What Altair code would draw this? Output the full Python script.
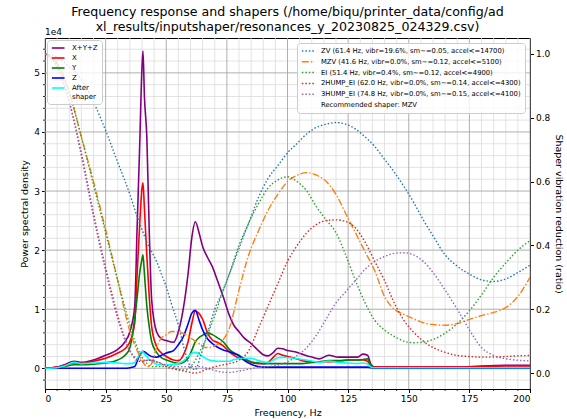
import altair as alt
import pandas as pd

# ---------------- data ----------------
psd_freq = [0, 5, 8, 12, 15, 20, 25, 30, 33, 35, 37, 38, 39, 40, 40.4, 41, 42, 43, 44, 46, 48, 50,
            53, 55, 57, 59, 60.5, 62, 63.5, 65, 67, 69, 71, 73.5, 76, 78, 80, 82, 85, 88, 90, 92, 94,
            96, 98, 100, 103, 106, 110, 113, 117, 121, 125, 129, 131, 133, 134.5, 136, 140, 150, 160,
            170, 180, 190, 200]
psd_xyz = [0.0, 0.02, 0.06, 0.12, 0.10, 0.14, 0.22, 0.32, 0.45, 0.62, 1.05, 2.4, 3.7, 5.1, 5.37, 4.6,
           3.9, 2.3, 1.15, 0.62, 0.5, 0.47, 0.44, 0.62, 1.0, 1.6, 2.2, 2.48, 2.3, 2.06, 1.88, 1.72,
           1.5, 1.21, 0.9, 0.72, 0.62, 0.52, 0.42, 0.3, 0.23, 0.21, 0.26, 0.34, 0.33, 0.3, 0.28, 0.24,
           0.19, 0.16, 0.22, 0.19, 0.19, 0.19, 0.24, 0.22, 0.06, 0.02, 0.02, 0.02, 0.02, 0.02, 0.04,
           0.05, 0.05]
psd_x = [0.0, 0.02, 0.05, 0.09, 0.08, 0.12, 0.17, 0.26, 0.33, 0.45, 0.77, 1.6, 2.4, 3.05, 3.14, 2.7,
         1.9, 1.2, 0.7, 0.37, 0.26, 0.2, 0.14, 0.13, 0.22, 0.45, 0.75, 0.97, 0.93, 0.83, 0.6, 0.48,
         0.44, 0.38, 0.28, 0.22, 0.17, 0.15, 0.1, 0.08, 0.08, 0.1, 0.18, 0.25, 0.22, 0.2, 0.17, 0.13,
         0.11, 0.11, 0.11, 0.12, 0.14, 0.14, 0.14, 0.12, 0.03, 0.02, 0.02, 0.02, 0.02, 0.02, 0.03,
         0.04, 0.04]
psd_y = [0.0, 0.01, 0.03, 0.06, 0.06, 0.07, 0.09, 0.14, 0.22, 0.35, 0.85, 1.2, 1.6, 1.85, 1.92, 1.6,
         1.05, 0.7, 0.45, 0.27, 0.18, 0.14, 0.1, 0.08, 0.1, 0.17, 0.3, 0.45, 0.52, 0.56, 0.6, 0.57,
         0.52, 0.45, 0.32, 0.26, 0.22, 0.17, 0.11, 0.09, 0.08, 0.08, 0.08, 0.08, 0.08, 0.08, 0.08,
         0.08, 0.1, 0.11, 0.13, 0.13, 0.14, 0.14, 0.15, 0.16, 0.04, 0.01, 0.01, 0.01, 0.01, 0.01,
         0.01, 0.01, 0.01]
psd_z = [0.0, 0.0, 0.0, 0.0, 0.0, 0.0, 0.0, 0.0, 0.0, 0.01, 0.03, 0.12, 0.22, 0.28, 0.29, 0.28,
         0.25, 0.22, 0.2, 0.19, 0.22, 0.26, 0.3, 0.4, 0.53, 0.75, 0.93, 0.98, 0.82, 0.65, 0.5, 0.42,
         0.36, 0.31, 0.28, 0.25, 0.21, 0.14, 0.07, 0.03, 0.02, 0.02, 0.02, 0.02, 0.02, 0.02, 0.02,
         0.02, 0.02, 0.02, 0.02, 0.02, 0.02, 0.02, 0.02, 0.02, 0.01, 0.0, 0.0, 0.0, 0.0, 0.0, 0.0,
         0.0, 0.0]
psd_after = [0.0, 0.01, 0.04, 0.1, 0.08, 0.09, 0.1, 0.09, 0.08, 0.08, 0.1, 0.16, 0.25, 0.28, 0.28,
             0.24, 0.2, 0.15, 0.12, 0.07, 0.06, 0.06, 0.06, 0.08, 0.12, 0.2, 0.25, 0.27, 0.24, 0.2,
             0.15, 0.13, 0.12, 0.12, 0.12, 0.15, 0.16, 0.17, 0.17, 0.13, 0.11, 0.1, 0.135, 0.18,
             0.185, 0.18, 0.17, 0.15, 0.125, 0.1, 0.125, 0.1, 0.09, 0.08, 0.09, 0.075, 0.02, 0.01,
             0.01, 0.01, 0.01, 0.01, 0.01, 0.01, 0.01]

psd_names = ["X+Y+Z", "X", "Y", "Z", "After shaper"]
psd_colors = ["#800080", "#ff0000", "#008000", "#0000ff", "#00ffff"]

shp_freq = [0, 5, 10, 15, 20, 25, 30, 35, 38, 40, 42, 44, 46, 48, 50, 52, 55, 58, 60, 62, 64, 66,
            68, 70, 73, 76, 80, 84, 88, 92, 96, 100, 104, 108, 112, 116, 120, 124, 128, 132, 136,
            140, 144, 148, 152, 156, 160, 165, 170, 175, 180, 185, 190, 195, 200]
shp_zv = [1.0, 0.99, 0.96, 0.92, 0.85, 0.76, 0.66, 0.56, 0.49, 0.45, 0.41, 0.38, 0.35, 0.31, 0.27,
          0.22, 0.15, 0.06, 0.02, 0.01, 0.05, 0.1, 0.15, 0.2, 0.25, 0.31, 0.4, 0.47, 0.55, 0.61,
          0.65, 0.69, 0.72, 0.75, 0.77, 0.78, 0.785, 0.78, 0.765, 0.74, 0.71, 0.67, 0.63, 0.585,
          0.535, 0.48, 0.43, 0.37, 0.335, 0.31, 0.292, 0.287, 0.295, 0.315, 0.338]
shp_mzv = [1.0, 0.97, 0.88, 0.74, 0.6, 0.45, 0.29, 0.13, 0.07, 0.04, 0.02, 0.03, 0.08, 0.11, 0.12,
           0.13, 0.13, 0.12, 0.11, 0.1, 0.09, 0.08, 0.08, 0.085, 0.1, 0.14, 0.26, 0.37, 0.445, 0.51,
           0.56, 0.6, 0.62, 0.628, 0.62, 0.6, 0.56, 0.5, 0.44, 0.38, 0.32, 0.24, 0.2, 0.184, 0.17,
           0.158, 0.152, 0.15, 0.155, 0.168, 0.18, 0.19, 0.205, 0.24, 0.3]
shp_ei = [1.0, 0.97, 0.88, 0.74, 0.59, 0.44, 0.29, 0.15, 0.08, 0.05, 0.03, 0.02, 0.02, 0.02, 0.02,
          0.02, 0.01, 0.01, 0.02, 0.04, 0.07, 0.1, 0.14, 0.18, 0.25, 0.31, 0.39, 0.47, 0.53, 0.58,
          0.605, 0.615, 0.6, 0.57, 0.52, 0.48, 0.44, 0.37, 0.29, 0.22, 0.165, 0.135, 0.115, 0.1,
          0.095, 0.097, 0.105, 0.125, 0.155, 0.195, 0.245, 0.3, 0.345, 0.385, 0.415]
shp_2hump = [1.0, 0.96, 0.85, 0.69, 0.5, 0.33, 0.18, 0.07, 0.04, 0.035, 0.04, 0.04, 0.035, 0.03,
             0.02, 0.015, 0.01, 0.005, 0.002, 0.0, 0.003, 0.01, 0.015, 0.02, 0.025, 0.03, 0.04,
             0.07, 0.14, 0.21, 0.28, 0.35, 0.4, 0.44, 0.466, 0.478, 0.48, 0.475, 0.455, 0.41, 0.35,
             0.29, 0.22, 0.165, 0.128, 0.1, 0.08, 0.065, 0.055, 0.052, 0.05, 0.05, 0.052, 0.054,
             0.055]
shp_3hump = [1.0, 0.96, 0.85, 0.68, 0.49, 0.32, 0.17, 0.07, 0.045, 0.04, 0.04, 0.04, 0.035, 0.03,
             0.025, 0.022, 0.02, 0.02, 0.02, 0.02, 0.02, 0.017, 0.012, 0.008, 0.003, 0.002, 0.006,
             0.012, 0.018, 0.02, 0.025, 0.035, 0.055, 0.08, 0.12, 0.17, 0.22, 0.255, 0.29, 0.325,
             0.35, 0.365, 0.375, 0.377, 0.37, 0.35, 0.315, 0.26, 0.2, 0.135, 0.08, 0.055, 0.045,
             0.04, 0.038]

shaper_names = [
    "ZV (61.4 Hz, vibr=19.6%, sm~=0.05, accel<=14700)",
    "MZV (41.6 Hz, vibr=0.0%, sm~=0.12, accel<=5100)",
    "EI (51.4 Hz, vibr=0.4%, sm~=0.12, accel<=4900)",
    "2HUMP_EI (62.0 Hz, vibr=0.0%, sm~=0.14, accel<=4300)",
    "3HUMP_EI (74.8 Hz, vibr=0.0%, sm~=0.15, accel<=4100)",
]
recommended = "Recommended shaper: MZV"
shaper_colors = ["#1f77b4", "#ff7f0e", "#2ca02c", "#d62728", "#9467bd", "transparent"]
DOT = [1.5, 2.0]
DASHDOT = [7, 2, 1.5, 2]
shaper_dashes = [DOT, DASHDOT, DOT, DOT, DOT, [1, 0]]

title_lines = ["Frequency response and shapers (/home/biqu/printer_data/config/ad",
               "xl_results/inputshaper/resonances_y_20230825_024329.csv)"]

x_major = [0, 25, 50, 75, 100, 125, 150, 175, 200]
x_minor = [f for f in range(0, 201, 5) if f % 25 != 0]
yl_major = [0, 1, 2, 3, 4, 5]
yl_minor = [round(v * 0.2, 1) for v in range(-1, 28) if v % 5 != 0]
yr_major = [0, 0.2, 0.4, 0.6, 0.8, 1.0]

# ---------------- tables ----------------
psd_series = [psd_xyz, psd_x, psd_y, psd_z, psd_after]
psd_rows = []
for name, vals in zip(psd_names, psd_series):
    for f, v in zip(psd_freq, vals):
        psd_rows.append({"freq": f, "psd": v, "series": name})
psd_df = pd.DataFrame(psd_rows)

shp_series = [shp_zv, shp_mzv, shp_ei, shp_2hump, shp_3hump]
shp_rows = []
for name, vals in zip(shaper_names, shp_series):
    for f, v in zip(shp_freq, vals):
        shp_rows.append({"freq": f, "ratio": v, "shaper": name})
shp_df = pd.DataFrame(shp_rows)

W, H = 485, 351
FONT = "DejaVu Sans"

x_scale = alt.Scale(domain=[0, 200], nice=False, zero=False)
yl_scale = alt.Scale(domain=[-0.35, 5.59], nice=False, zero=False)
yr_scale = alt.Scale(domain=[-0.05, 1.05], nice=False, zero=False)

x_axis = alt.Axis(title="Frequency, Hz", values=x_major, format="d", grid=False)
yl_axis = alt.Axis(title="Power spectral density", values=yl_major, format="d", grid=False)
yr_axis = alt.Axis(orient="right", title="Shaper vibration reduction (ratio)",
                   values=yr_major, format=".1f", grid=False)

MINOR = "#dcdcdc"
MAJOR = "#a6a6a6"

g_minor_v = alt.Chart(pd.DataFrame({"freq": x_minor})).mark_rule(color=MINOR, strokeWidth=0.8).encode(
    x=alt.X("freq:Q", scale=x_scale, axis=x_axis))
g_minor_h = alt.Chart(pd.DataFrame({"psd": yl_minor})).mark_rule(color=MINOR, strokeWidth=0.8).encode(
    y=alt.Y("psd:Q", scale=yl_scale, axis=yl_axis))
g_major_v = alt.Chart(pd.DataFrame({"freq": x_major})).mark_rule(color=MAJOR, strokeWidth=0.9).encode(
    x=alt.X("freq:Q", scale=x_scale, axis=x_axis))
g_major_h = alt.Chart(pd.DataFrame({"psd": yl_major})).mark_rule(color=MAJOR, strokeWidth=0.9).encode(
    y=alt.Y("psd:Q", scale=yl_scale, axis=yl_axis))

tick_x = alt.Chart(pd.DataFrame({"freq": x_minor})).mark_rule(color="black", strokeWidth=0.8).encode(
    x=alt.X("freq:Q", scale=x_scale, axis=x_axis), y=alt.value(H), y2=alt.value(H + 2))
tick_y = alt.Chart(pd.DataFrame({"psd": [v for v in yl_minor if v > -0.3]})).mark_rule(
    color="black", strokeWidth=0.8).encode(
    y=alt.Y("psd:Q", scale=yl_scale, axis=yl_axis), x=alt.value(0), x2=alt.value(-2))

exp_text = alt.Chart(pd.DataFrame({"t": ["1e4"]})).mark_text(
    align="left", baseline="alphabetic", fontSize=9, font=FONT, color="black").encode(
    x=alt.value(0), y=alt.value(-3), text="t:N")

psd_legend = alt.Legend(
    title=None, orient="top-left", offset=2, symbolType="M-1,0H3", symbolSize=40,
    symbolStrokeWidth=1.6, labelFontSize=7, labelFont=FONT, labelOffset=13, rowPadding=2,
    padding=4, fillColor="rgba(255,255,255,0.8)", strokeColor="#cccccc", cornerRadius=3,
    labelExpr="datum.label == 'After shaper' ? ['After', 'shaper'] : datum.label")

psd_lines = alt.Chart(psd_df).mark_line(strokeWidth=1.6, interpolate="monotone", clip=True).encode(
    x=alt.X("freq:Q", scale=x_scale, axis=x_axis),
    y=alt.Y("psd:Q", scale=yl_scale, axis=yl_axis),
    color=alt.Color("series:N", scale=alt.Scale(domain=psd_names, range=psd_colors),
                    legend=psd_legend),
)

shp_legend = alt.Legend(
    title=None, orient="top-right", offset=5, symbolType="M-1,0H3", symbolSize=40,
    symbolStrokeWidth=1.5, labelFontSize=6.8, labelFont=FONT, labelOffset=12, rowPadding=2.8,
    padding=4, fillColor="rgba(255,255,255,0.8)", strokeColor="#cccccc", cornerRadius=3,
    labelLimit=400)

shp_lines = alt.Chart(shp_df).mark_line(strokeWidth=1.4, interpolate="monotone", clip=True).encode(
    x=alt.X("freq:Q", scale=x_scale, axis=x_axis),
    y=alt.Y("ratio:Q", scale=yr_scale, axis=yr_axis),
    color=alt.Color("shaper:N", scale=alt.Scale(domain=shaper_names + [recommended],
                                                range=shaper_colors), legend=shp_legend),
    strokeDash=alt.StrokeDash("shaper:N", scale=alt.Scale(domain=shaper_names + [recommended],
                                                          range=shaper_dashes), legend=shp_legend),
)

left = alt.layer(g_minor_v, g_minor_h, g_major_v, g_major_h, psd_lines, tick_x, tick_y, exp_text)
right = alt.layer(shp_lines)

chart = alt.layer(left, right).resolve_scale(
    y="independent", color="independent", strokeDash="independent"
).properties(
    width=W, height=H,
    title=alt.TitleParams(title_lines, fontSize=12.6, font=FONT, fontWeight="normal",
                          anchor="middle", frame="group", offset=-6, lineHeight=15, color="black"),
    autosize=alt.AutoSizeParams(type="none"),
    padding={"left": 45, "top": 38, "right": 37, "bottom": 30},
).configure_axis(
    labelFont=FONT, titleFont=FONT, labelFontSize=9, titleFontSize=9.5, titleFontWeight="normal",
    labelColor="black", titleColor="black", tickColor="black", domainColor="black",
    tickSize=3.5, labelPadding=2, titlePadding=4,
).configure_view(stroke="black", strokeWidth=1)

chart.save("out.html", embed_options={"renderer": "svg", "actions": False})
